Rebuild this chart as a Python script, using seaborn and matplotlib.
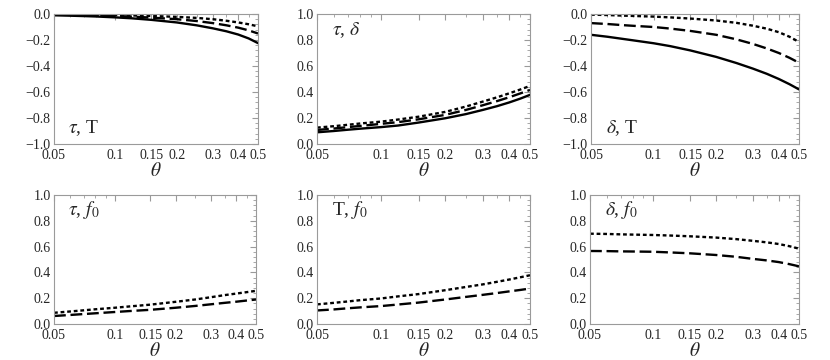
import numpy as np
import pandas as pd
import matplotlib
matplotlib.use("Agg")
import matplotlib.pyplot as plt
import seaborn as sns
from matplotlib.ticker import FixedLocator, NullFormatter, MultipleLocator

sns.set_theme(style="white")
plt.rcParams['font.family'] = ['Liberation Serif', 'DejaVu Serif']
plt.rcParams['mathtext.fontset'] = 'stix'

theta = [0.05, 0.06, 0.07, 0.08, 0.1, 0.12, 0.15, 0.2, 0.25, 0.3, 0.35, 0.4, 0.45, 0.5]

# panel 1: tau, T
p1_solid = [-0.010, -0.013, -0.016, -0.019, -0.026, -0.033, -0.045, -0.065, -0.087, -0.110, -0.133, -0.158, -0.188, -0.224]
p1_dashed = [-0.005, -0.007, -0.009, -0.011, -0.015, -0.020, -0.028, -0.040, -0.054, -0.070, -0.087, -0.105, -0.126, -0.150]
p1_dotted = [0.000, -0.002, -0.004, -0.006, -0.008, -0.011, -0.015, -0.022, -0.030, -0.040, -0.052, -0.065, -0.079, -0.095]
# panel 2: tau, delta
p2_solid = [0.090, 0.100, 0.110, 0.118, 0.130, 0.142, 0.165, 0.198, 0.230, 0.262, 0.291, 0.320, 0.349, 0.378]
p2_dashed = [0.108, 0.119, 0.130, 0.139, 0.155, 0.168, 0.190, 0.224, 0.262, 0.298, 0.330, 0.360, 0.389, 0.416]
p2_dotted = [0.126, 0.137, 0.148, 0.158, 0.172, 0.188, 0.210, 0.247, 0.288, 0.326, 0.359, 0.390, 0.419, 0.447]
# panel 3: delta, T
p3_solid = [-0.160, -0.175, -0.190, -0.203, -0.225, -0.247, -0.280, -0.330, -0.377, -0.420, -0.460, -0.500, -0.540, -0.580]
p3_dashed = [-0.070, -0.077, -0.085, -0.091, -0.100, -0.112, -0.130, -0.160, -0.195, -0.230, -0.265, -0.300, -0.337, -0.375]
p3_dotted = [-0.005, -0.008, -0.012, -0.015, -0.020, -0.026, -0.035, -0.050, -0.068, -0.090, -0.113, -0.140, -0.175, -0.215]
# panel 4: tau, f0
p4_dashed = [0.062, 0.070, 0.077, 0.083, 0.093, 0.101, 0.110, 0.126, 0.140, 0.153, 0.164, 0.173, 0.182, 0.190]
p4_dotted = [0.087, 0.097, 0.106, 0.114, 0.126, 0.137, 0.150, 0.172, 0.190, 0.208, 0.224, 0.236, 0.247, 0.257]
# panel 5: T, f0
p5_dashed = [0.105, 0.113, 0.122, 0.129, 0.139, 0.151, 0.166, 0.190, 0.210, 0.226, 0.240, 0.253, 0.264, 0.275]
p5_dotted = [0.152, 0.164, 0.175, 0.185, 0.198, 0.214, 0.232, 0.262, 0.287, 0.307, 0.327, 0.345, 0.362, 0.378]
# panel 6: delta, f0
p6_dashed = [0.566, 0.565, 0.563, 0.562, 0.560, 0.555, 0.548, 0.535, 0.521, 0.505, 0.493, 0.480, 0.464, 0.447]
p6_dotted = [0.700, 0.698, 0.695, 0.693, 0.690, 0.686, 0.680, 0.670, 0.658, 0.645, 0.633, 0.620, 0.603, 0.584]

panel_labels = [r"$\tau$, T", r"$\tau$, $\delta$", r"$\delta$, T",
                r"$\tau$, $f_0$", r"T, $f_0$", r"$\delta$, $f_0$"]
xticks = [0.05, 0.1, 0.15, 0.2, 0.3, 0.4, 0.5]
xticklabels = ["0.05", "0.1", "0.15", "0.2", "0.3", "0.4", "0.5"]

panels = [
    {"solid": p1_solid, "dashed": p1_dashed, "dotted": p1_dotted},
    {"solid": p2_solid, "dashed": p2_dashed, "dotted": p2_dotted},
    {"solid": p3_solid, "dashed": p3_dashed, "dotted": p3_dotted},
    {"dashed": p4_dashed, "dotted": p4_dotted},
    {"dashed": p5_dashed, "dotted": p5_dotted},
    {"dashed": p6_dashed, "dotted": p6_dotted},
]
ylims = [(-1, 0), (0, 1), (-1, 0), (0, 1), (0, 1), (0, 1)]
label_top = [False, True, False, True, True, True]

W, H = 830, 360
rects_px = [(54, 14, 258, 144), (317, 14, 530, 144), (591, 14, 799, 144),
            (54, 195, 256, 324), (317, 195, 530, 324), (590, 195, 799, 324)]

fig = plt.figure(figsize=(8.3, 3.6), dpi=100)
styles = {"solid": None, "dashed": (5, 2), "dotted": (1.6, 1.2)}
frame_col = "#9a9a9a"

for i, (pan, yl, rp) in enumerate(zip(panels, ylims, rects_px)):
    l, t, r, b = rp
    ax = fig.add_axes([l / W, 1 - b / H, (r - l) / W, (b - t) / H])
    for key, vals in pan.items():
        df = pd.DataFrame({"theta": theta, "v": vals})
        sns.lineplot(data=df, x="theta", y="v", ax=ax, color="black",
                     linewidth=1.7, linestyle="-")
        ln = ax.get_lines()[-1]
        if styles[key] is not None:
            ln.set_dashes(styles[key])
    ax.set_xscale("log")
    ax.set_xlim(0.05, 0.5)
    ax.set_ylim(*yl)
    ax.xaxis.set_major_locator(FixedLocator(xticks))
    ax.set_xticklabels(xticklabels)
    ax.xaxis.set_minor_locator(FixedLocator([0.06, 0.07, 0.08, 0.09, 0.25, 0.35, 0.45]))
    ax.xaxis.set_minor_formatter(NullFormatter())
    ax.yaxis.set_major_locator(MultipleLocator(0.2))
    ax.yaxis.set_minor_locator(MultipleLocator(0.04))
    ax.set_yticklabels([f"{v:.1f}".replace("-", "\u2212") for v in ax.get_yticks()])
    ax.tick_params(which="both", direction="in", top=True, right=True,
                   color=frame_col, labelsize=10)
    ax.tick_params(axis="x", pad=3.5)
    ax.tick_params(axis="y", pad=2.5)
    ax.tick_params(which="major", length=4, width=0.8)
    ax.tick_params(which="minor", length=2, width=0.6)
    for s in ax.spines.values():
        s.set_color(frame_col)
        s.set_linewidth(0.8)
    ax.set_xlabel(r"$\theta$", fontsize=14, labelpad=0)
    ax.set_ylabel("")
    ty = 0.88 if label_top[i] else 0.12
    ax.text(0.07, ty, panel_labels[i], transform=ax.transAxes, fontsize=14,
            va="center", ha="left")

fig.savefig("out.png", dpi=100)
